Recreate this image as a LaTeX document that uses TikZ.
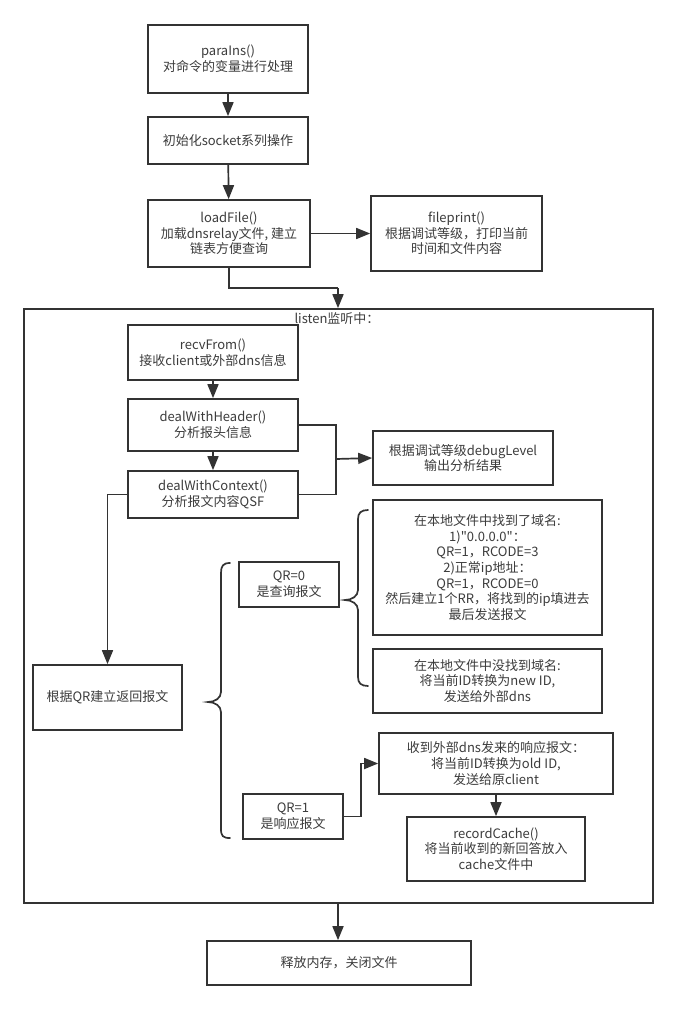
\documentclass[tikz,border=0pt]{standalone}
\usepackage{fontspec}
\setmainfont{Noto Sans CJK SC}[Ligatures=TeXOff]
\usetikzlibrary{arrows.meta}
\definecolor{ink}{HTML}{333333}
\definecolor{txt}{HTML}{3C3C3C}
\begin{document}
\begin{tikzpicture}[x=1pt,y=-1pt,
  every node/.style={font=\fontsize{13}{15.7}\selectfont, text=txt},
  box/.style={draw=ink, line width=1.7pt, fill=white, inner sep=0pt, align=center},
  conn/.style={draw=ink, line width=1.7pt},
  arr/.style={conn, -{Triangle[length=14pt,width=11pt]}},
  bracepath/.style={draw=ink, line width=1.7pt, line cap=round}
]
\useasboundingbox (0,0) rectangle (678,1010);
\fill[white] (0,0) rectangle (678,1010);

% outer listening loop frame
\node[box, minimum width=629pt, minimum height=594pt] (listen) at (338.5,606) {};
\node (listentitle) at (337,319) {listen监听中：};

% start-up sequence
\node[box, minimum width=160pt, minimum height=68pt] (para) at (228,59) {paraIns()\\对命令的变量进行处理};
\node[box, minimum width=160pt, minimum height=47pt] (init) at (228,140.5) {初始化socket系列操作};
\node[box, minimum width=162pt, minimum height=67pt] (load) at (229,233.5) {loadFile()\\加载dnsrelay文件, 建立\\链表方便查询};
\node[box, minimum width=171pt, minimum height=75pt] (fprint) at (456.5,233.5) {fileprint()\\根据调试等级，打印当前\\时间和文件内容};

% receive and parse
\node[box, minimum width=170pt, minimum height=55pt] (recv) at (213,352.5) {recvFrom()\\接收client或外部dns信息};
\node[box, minimum width=170pt, minimum height=52pt] (header) at (213,425) {dealWithHeader()\\分析报头信息};
\node[box, minimum width=170pt, minimum height=47pt] (context) at (213,494.5) {dealWithContext()\\分析报文内容QSF};
\node[box, minimum width=180pt, minimum height=54pt] (debug) at (463,458) {根据调试等级debugLevel\\输出分析结果};

% reply construction
\node[box, minimum width=149pt, minimum height=65pt] (qrbuild) at (107.5,697.5) {根据QR建立返回报文};
\node[box, minimum width=100pt, minimum height=45pt] (qr0) at (289,584.5) {QR=0\\是查询报文};
\node[box, minimum width=100pt, minimum height=45pt] (qr1) at (293,816.5) {QR=1\\是响应报文};
\node[box, minimum width=229pt, minimum height=135pt] (found) at (487.5,567.5) {在本地文件中找到了域名:\\1)"0.0.0.0"：\\QR=1，RCODE=3\\2)正常ip地址：\\QR=1，RCODE=0\\然后建立1个RR，将找到的ip填进去\\最后发送报文};
\node[box, minimum width=229pt, minimum height=64pt] (notfound) at (487.5,681) {在本地文件中没找到域名:\\将当前ID转换为new ID,\\发送给外部dns};
\node[box, minimum width=234pt, minimum height=61pt] (resp) at (496,763.5) {收到外部dns发来的响应报文：\\将当前ID转换为old ID,\\发送给原client};
\node[box, minimum width=178pt, minimum height=64pt] (cache) at (496,849) {recordCache()\\将当前收到的新回答放入\\cache文件中};

% shutdown
\node[box, minimum width=264pt, minimum height=44pt] (release) at (339,963) {释放内存，关闭文件};

% connectors
\coordinate (lbend) at (338,288);
\coordinate (hjoin) at (336,459);
\coordinate (qjoin) at (361,790);
\draw[arr] (para) -- (init);
\draw[arr] (init) -- (load);
\draw[arr] (load.east) -- (fprint.west);
\draw[conn] (load.south) |- (lbend);
\draw[arr] (lbend) -- (lbend |- listen.north);
\draw[arr] (recv) -- (header);
\draw[arr] (header) -- (context);
\draw[conn] (header.east) -| (hjoin) |- (context.east);
\draw[arr] (hjoin) -- (debug.west);
\draw[arr] (context.west) -| (qrbuild.north);
\draw[arr] (qr1.east) -| (qjoin) |- (resp.west);
\draw[arr] (resp) -- (cache);
\draw[arr] (lbend |- listen.south) -- (lbend |- release.north);

% braces grouping the cases
\draw[bracepath] (230,563) .. controls (223,563) and (221,566) .. (221,573)
  -- (221,692) .. controls (221,698) and (215,702) .. (208,702)
  .. controls (215,702) and (221,706) .. (221,712)
  -- (221,829) .. controls (221,836) and (223,838) .. (230,838);
\draw[bracepath] (368,510) .. controls (361,510) and (358,513) .. (358,519)
  -- (358,590) .. controls (358,596) and (352,600) .. (345,600)
  .. controls (352,600) and (358,604) .. (358,610)
  -- (358,677) .. controls (358,683) and (361,686) .. (368,686);
\end{tikzpicture}
\end{document}
